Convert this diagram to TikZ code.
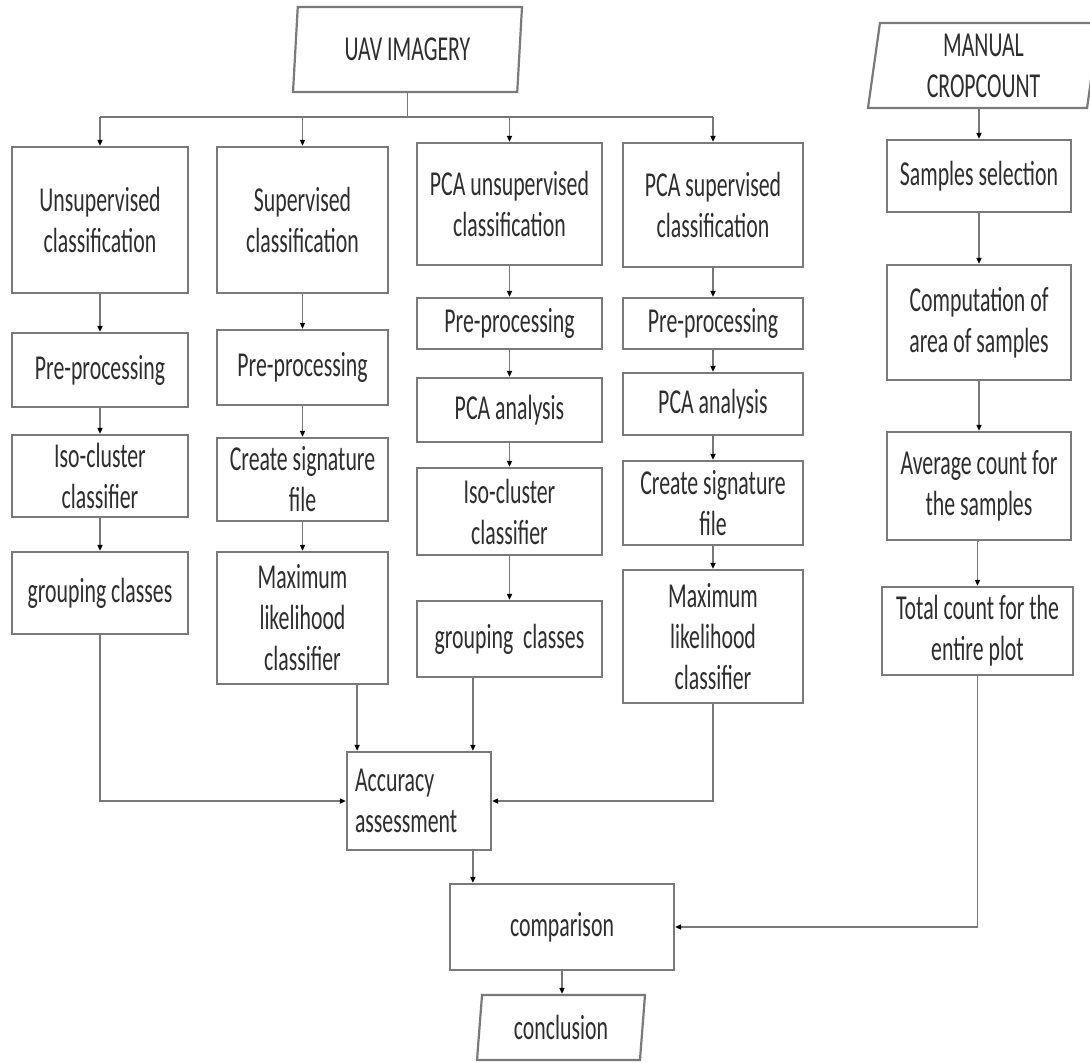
\documentclass[tikz,border=0pt]{standalone}
\usepackage{fontspec}
\setmainfont{Carlito}[FakeStretch=0.623]
\usetikzlibrary{arrows.meta,shapes.geometric,calc}
\definecolor{boxgray}{HTML}{7A7A7A}
\definecolor{linegray}{HTML}{777777}
\definecolor{txt}{HTML}{2E2E2E}
\begin{document}
\begin{tikzpicture}[x=1pt,y=-1pt,
  box/.style={draw=boxgray, line width=2.2pt, fill=white, align=center,
    inner sep=2pt, text=txt, font=\fontsize{35}{41}\selectfont},
  bx/.style n args={2}{box, rectangle, minimum width=#1pt, minimum height=#2pt},
  para/.style n args={2}{box, trapezium, trapezium left angle=80,
    trapezium right angle=100, trapezium stretches body,
    minimum width=#1pt, minimum height=#2pt},
  conn/.style={draw=linegray, line width=1.6pt},
  arr/.style={conn, -{Triangle[length=6pt,width=5pt,black]}}
]
\useasboundingbox (0,0) rectangle (1090,1063);

% sources
\node[para={229}{85}] (uav) at (407.5,49.5) {UAV IMAGERY};
\node[para={231}{85}] (manual) at (983.5,65.5) {MANUAL\\CROPCOUNT};

% column 1
\node[bx={176}{146}] (uns)  at (100,220)   {Unsupervised\\classification};
\node[bx={176}{74}]  (pre1) at (100,370)   {Pre-processing};
\node[bx={176}{82}]  (iso1) at (100,476)   {Iso-cluster\\classifier};
\node[bx={176}{82}]  (grp1) at (100,593)   {grouping classes};

% column 2
\node[bx={171}{146}] (sup)  at (302.5,220)   {Supervised\\classification};
\node[bx={171}{75}]  (pre2) at (302.5,367.5) {Pre-processing};
\node[bx={171}{83}]  (sig2) at (302.5,479.5) {Create signature\\file};
\node[bx={171}{132}] (ml2)  at (302.5,618)   {Maximum\\likelihood\\classifier};

% column 3
\node[bx={185}{122}] (pcau) at (509.5,204)   {PCA unsupervised\\classification};
\node[bx={185}{51}]  (pre3) at (509.5,323.5) {Pre-processing};
\node[bx={185}{64}]  (pca3) at (509.5,410)   {PCA analysis};
\node[bx={185}{87}]  (iso3) at (509.5,511.5) {Iso-cluster\\classifier};
\node[bx={185}{76}]  (grp3) at (509.5,639)   {grouping\ \ classes};

% column 4
\node[bx={180}{124}] (pcas) at (713,205)   {PCA supervised\\classification};
\node[bx={180}{51}]  (pre4) at (713,323.5) {Pre-processing};
\node[bx={180}{62}]  (pca4) at (713,404)   {PCA analysis};
\node[bx={180}{84}]  (sig4) at (713,503)   {Create signature\\file};
\node[bx={180}{133}] (ml4)  at (713,636.5) {Maximum\\likelihood\\classifier};

% right column
\node[bx={184}{72}]  (samp) at (979,176)   {Samples selection};
\node[bx={184}{115}] (comp) at (979,322.5) {Computation of\\area of samples};
\node[bx={184}{108}] (avg)  at (979,486)   {Average count for\\the samples};
\node[bx={191}{88}]  (tot)  at (977.5,631) {Total count for the\\entire plot};

% bottom
\node[bx={144}{98}, align=left, text width=128pt, inner xsep=8pt] (acc) at (419,801) {Accuracy\\assessment};
\node[bx={224}{86}]  (cmp)  at (562,927) {comparison};
\node[para={168}{65}] (concl) at (561,1027.5) {conclusion};

% bus
\coordinate (bus) at (uav.south |- 0,117);
\draw[conn] (uav.south) -- (bus);
\draw[conn] (uns.north |- bus) -- (pcas.north |- bus);
\foreach \n in {uns,sup,pcau,pcas} \draw[arr] (\n.north |- bus) -- (\n.north);

% column chains
\draw[arr] (uns) -- (pre1);
\draw[arr] (pre1) -- (iso1);
\draw[arr] (iso1) -- (grp1);
\draw[arr] (sup) -- (pre2);
\draw[arr] (pre2) -- (sig2);
\draw[arr] (sig2) -- (ml2);
\draw[arr] (pcau) -- (pre3);
\draw[arr] (pre3) -- (pca3);
\draw[arr] (pca3) -- (iso3);
\draw[arr] (iso3) -- (grp3);
\draw[arr] (pcas) -- (pre4);
\draw[arr] (pre4) -- (pca4);
\draw[arr] (pca4) -- (sig4);
\draw[arr] (sig4) -- (ml4);
\draw[arr] (samp.north |- manual.south) -- (samp.north);
\draw[arr] (samp) -- (comp);
\draw[arr] (comp) -- (avg);
\draw[arr] (avg.south) -- (avg.south -| tot.north) -- (tot.north);

% into accuracy
\draw[arr] (grp1.south) |- (acc.west);
\draw[arr] ([xshift=-32pt]ml2.south east) -- ([xshift=-32pt]ml2.south east |- acc.north);
\draw[arr] ([xshift=57pt]grp3.south west) -- ([xshift=57pt]grp3.south west |- acc.north);
\draw[arr] (ml4.south) |- (acc.east);

% to comparison and conclusion
\draw[arr] ([xshift=57pt]grp3.south west |- acc.south) -- ([xshift=57pt]grp3.south west |- cmp.north);
\draw[arr] (tot.south) |- (cmp.east);
\draw[arr] (cmp.south) -- (cmp.south |- concl.north);
\end{tikzpicture}
\end{document}
